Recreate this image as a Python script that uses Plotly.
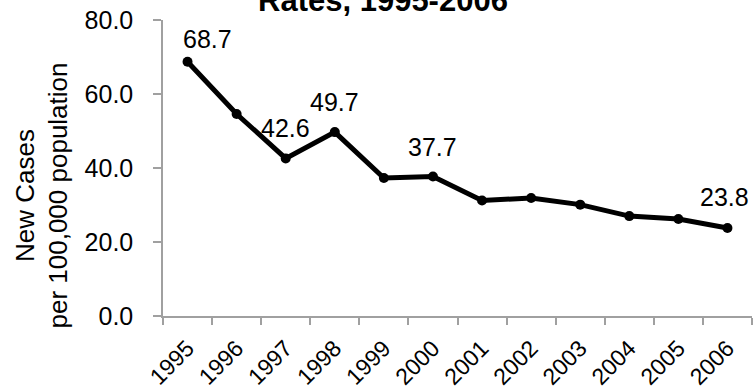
import plotly.graph_objects as go

years = ["1995", "1996", "1997", "1998", "1999", "2000", "2001", "2002", "2003", "2004", "2005", "2006"]
rates = [68.7, 54.6, 42.6, 49.7, 37.3, 37.7, 31.2, 31.9, 30.1, 27.0, 26.2, 23.8]
labeled = ["1995", "1997", "1998", "2000", "2006"]
title_text = "Rates, 1995-2006"
y_title = "New Cases<br>per 100,000 population"
y_ticks = [0, 20, 40, 60, 80]

FONT = "Liberation Sans, Arial, sans-serif"

fig = go.Figure()
fig.add_trace(go.Scatter(
    x=years, y=rates, mode="lines+markers",
    line=dict(color="black", width=5),
    marker=dict(color="black", size=10),
    hoverinfo="x+y", showlegend=False,
))

for i, (yr, v) in enumerate(zip(years, rates)):
    if yr in labeled:
        xs, ys = 0, 30
        if i == 0:
            xs, ys = 20, 23
        elif i == len(years) - 1:
            xs, ys = -3, 31
        fig.add_annotation(x=i, y=v, xref="x", yref="y", text=f"{v:.1f}", showarrow=False,
                           xshift=xs, yshift=ys,
                           font=dict(family=FONT, size=25, color="black"))

fig.add_annotation(x=(382.5 - 163) / 589, xref="paper", y=1, yref="paper", yanchor="bottom",
                   xanchor="center", yshift=0, text=f"<b>{title_text}</b>", showarrow=False,
                   font=dict(family=FONT, size=31, color="black"))

# y-axis title as rotated annotation (offset downward like the reference)
fig.add_annotation(x=0, xref="paper", y=(316 - 196) / 296, yref="paper",
                   xanchor="center", yanchor="middle",
                   xshift=41.5 - 163, text=y_title, textangle=-90, showarrow=False,
                   font=dict(family=FONT, size=26, color="black"))

fig.update_layout(
    width=753, height=390,
    margin=dict(l=163, r=1, t=20, b=74),
    paper_bgcolor="white", plot_bgcolor="white",
    font=dict(family=FONT, size=24, color="black"),
)
fig.update_xaxes(
    type="category", range=[-0.5, len(years) - 0.5], automargin=False,
    showline=True, linecolor="#a0a0a0", linewidth=1.5,
    ticks="outside", tickson="boundaries", ticklen=7, tickcolor="#a0a0a0", tickwidth=1.5,
    tickangle=-45, tickfont=dict(family=FONT, size=23, color="black"),
    ticklabelstandoff=8,
    showgrid=False, zeroline=False,
)
fig.update_yaxes(
    range=[0, 80], tickvals=y_ticks, tickformat=".1f", automargin=False,
    showline=True, linecolor="#a0a0a0", linewidth=1.5,
    ticks="outside", ticklen=8, tickcolor="#a0a0a0", tickwidth=1.5,
    tickfont=dict(family=FONT, size=25, color="black"),
    ticklabelstandoff=15,
    showgrid=False, zeroline=False,
)

fig.write_html("out.html", config={"displayModeBar": False},
               post_script="document.body.style.margin='0';")
